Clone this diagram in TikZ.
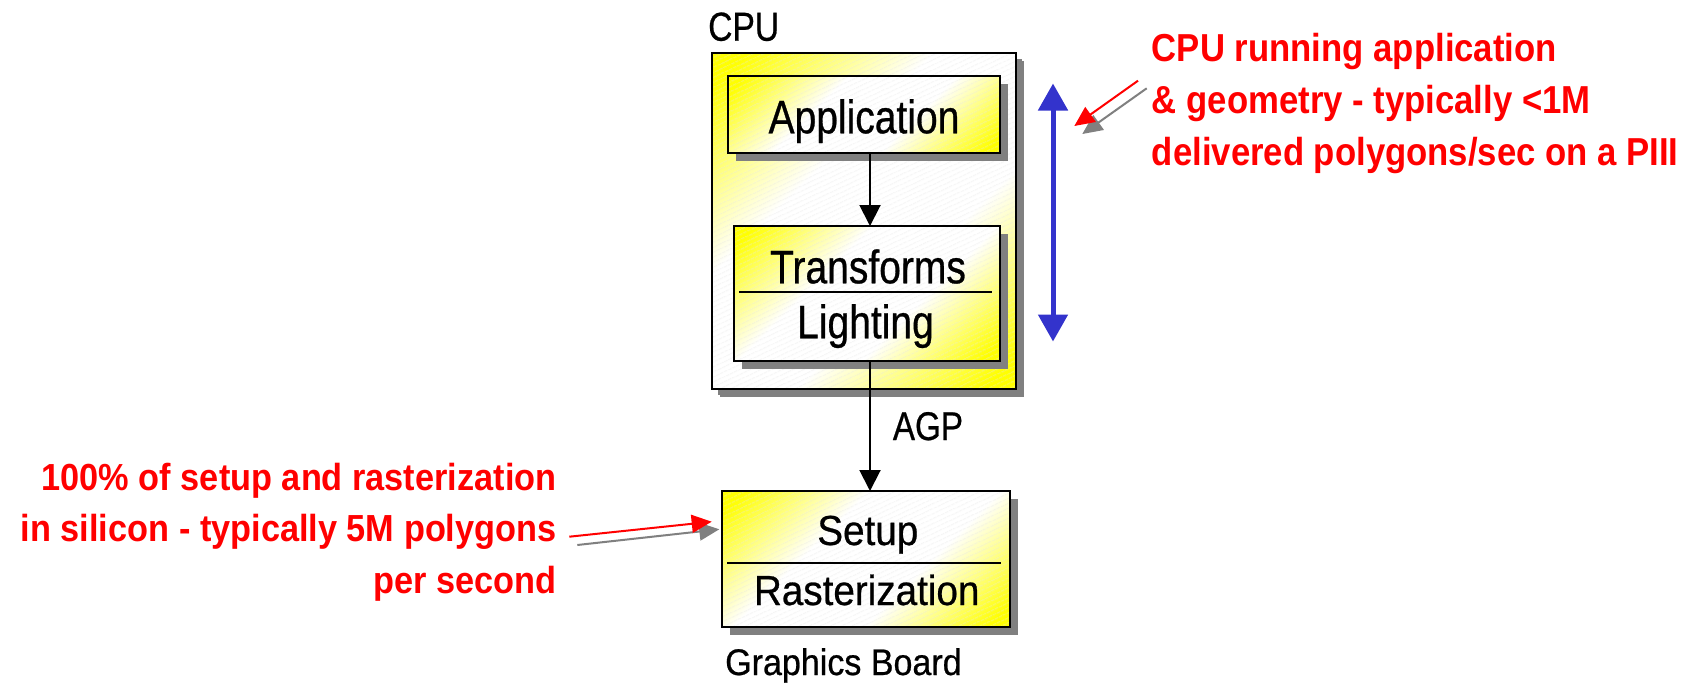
\documentclass[tikz,border=0pt]{standalone}
\usepackage{fontspec}
\setmainfont{Liberation Sans}
% condensed faces for box captions, the board stage and the red notes
\newfontfamily\capfont[FakeStretch=0.83,FakeBold=0.6]{Liberation Sans}
\newfontfamily\boardfont[FakeStretch=0.92,FakeBold=0.6]{Liberation Sans}
\newfontfamily\notefontA[FakeStretch=0.89]{Liberation Sans}
\newfontfamily\notefontB[FakeStretch=0.91]{Liberation Sans}
\usetikzlibrary{arrows.meta,patterns.meta,shadows,calc}

\definecolor{notered}{RGB}{255,0,0}
\definecolor{spanblue}{RGB}{51,51,204}
\definecolor{shadowgray}{RGB}{128,128,128}

% yellow -> white -> yellow diagonal fill of the stage boxes
\pgfdeclarehorizontalshading{stagefill}{100bp}{color(0bp)=(yellow); color(18bp)=(yellow); color(39bp)=(white); color(61bp)=(white); color(82bp)=(yellow); color(100bp)=(yellow)}

\tikzset{
  stagebox/.style={shading=stagefill, shading angle=-45,
    postaction={pattern={Lines[angle=25,distance=4pt,line width=0.5pt]}, pattern color=black!10},
    postaction={draw=black, line width=2pt},
    general shadow={fill=shadowgray, shadow xshift=8pt, shadow yshift=-8pt},
    inner sep=0pt, anchor=north west},
  cpubox/.style={stagebox, general shadow={fill=shadowgray, shadow xshift=6pt, shadow yshift=-6pt}},
  captxt/.style={font=\capfont\fontsize{47}{56}\selectfont, inner sep=0pt, anchor=base},
  boardtxt/.style={font=\boardfont\fontsize{42}{50}\selectfont, inner sep=0pt, anchor=base},
  tagtxt/.style={inner sep=0pt, anchor=base west},
  noteA/.style={font=\notefontA\bfseries\fontsize{39}{52}\selectfont, text=notered, inner sep=0pt, anchor=base west},
  noteB/.style={font=\notefontB\bfseries\fontsize{37.7}{51}\selectfont, text=notered, inner sep=0pt, anchor=base east},
  divider/.style={line width=2pt},
  flow/.style={line width=2pt, -{Triangle[length=21pt,width=21pt]}},
  span/.style={line width=5pt, draw=spanblue, {Triangle[length=27pt,width=29pt]}-{Triangle[length=27pt,width=29pt]}},
  pointer/.style={line width=2pt, -{Triangle[length=20pt,width=18pt]}},
}

\begin{document}
\begin{tikzpicture}[x=1pt,y=-1pt]
\fill[white] (0,0) rectangle (1695,683);
\useasboundingbox (0,0) rectangle (1695,683);

% CPU enclosure and its stages
\node[cpubox, minimum width=304pt, minimum height=336pt] (cpu) at (712,53) {};
\node[tagtxt, font=\capfont\fontsize{40.5}{48}\selectfont] (cpulbl) at (708,40.7) {CPU};

\node[stagebox, minimum width=272pt, minimum height=77pt] (app) at (728,76) {};
\node[captxt] (apptxt) at (864,133.3) {Application};

\node[stagebox, minimum width=266.5pt, minimum height=135pt] (tl) at (733.5,226) {};
\draw[divider] ($(tl.west)+(5.7,-2)$) -- ($(tl.east)+(-8.3,-2)$);
\node[captxt] (tltop) at (868,283.3) {Transforms};
\node[captxt] (tlbot) at (865.5,338.3) {Lighting};

% graphics board stage
\node[stagebox, minimum width=288pt, minimum height=136pt] (sr) at (722,491) {};
\draw[divider] ($(sr.west)+(5.3,4)$) -- ($(sr.east)+(-9.3,4)$);
\node[boardtxt] (srtop) at (867.8,545) {Setup};
\node[boardtxt] (srbot) at (866.7,605) {Rasterization};
\node[tagtxt, font=\boardfont\fontsize{37}{44}\selectfont] (gblbl) at (725,675) {Graphics Board};

% data flow
\coordinate (axis) at (870,0);
\draw[flow] (app.south -| axis) -- (tl.north -| axis);
\draw[flow] (tl.south -| axis) -- (sr.north -| axis);
\node[tagtxt, font=\capfont\fontsize{40}{48}\selectfont] (agp) at (892.7,440) {AGP};

% span of the CPU work
\coordinate (spantop) at (1053,83.5);
\coordinate (spanbot) at (1053,341.5);
\draw[span] (spantop) -- (spanbot);

% upper note
\node[noteA] (na1) at (1151.7,61) {CPU running application};
\node[noteA] (na2) at (1151.7,113) {\& geometry - typically <1M};
\node[noteA] (na3) at (1151.7,165) {delivered polygons/sec on a PIII};
\coordinate (pa0s) at (1146.7,88.3);
\coordinate (pa1s) at (1082.3,134);
\coordinate (pa0) at (1138,80.7);
\coordinate (pa1) at (1074.3,126);
\draw[pointer, draw=shadowgray, fill=shadowgray] (pa0s) -- (pa1s);
\draw[pointer, draw=notered, fill=notered] (pa0) -- (pa1);

% lower note
\node[noteB] (nb1) at (556.7,490.7) {100\% of setup and rasterization};
\node[noteB] (nb2) at (556.7,541.7) {in silicon - typically 5M polygons};
\node[noteB] (nb3) at (556.7,593) {per second};
\coordinate (pb0s) at (577.3,545);
\coordinate (pb1s) at (719.3,529.3);
\coordinate (pb0) at (569.3,536.7);
\coordinate (pb1) at (711.7,521.7);
\draw[pointer, draw=shadowgray, fill=shadowgray] (pb0s) -- (pb1s);
\draw[pointer, draw=notered, fill=notered] (pb0) -- (pb1);
\end{tikzpicture}
\end{document}
